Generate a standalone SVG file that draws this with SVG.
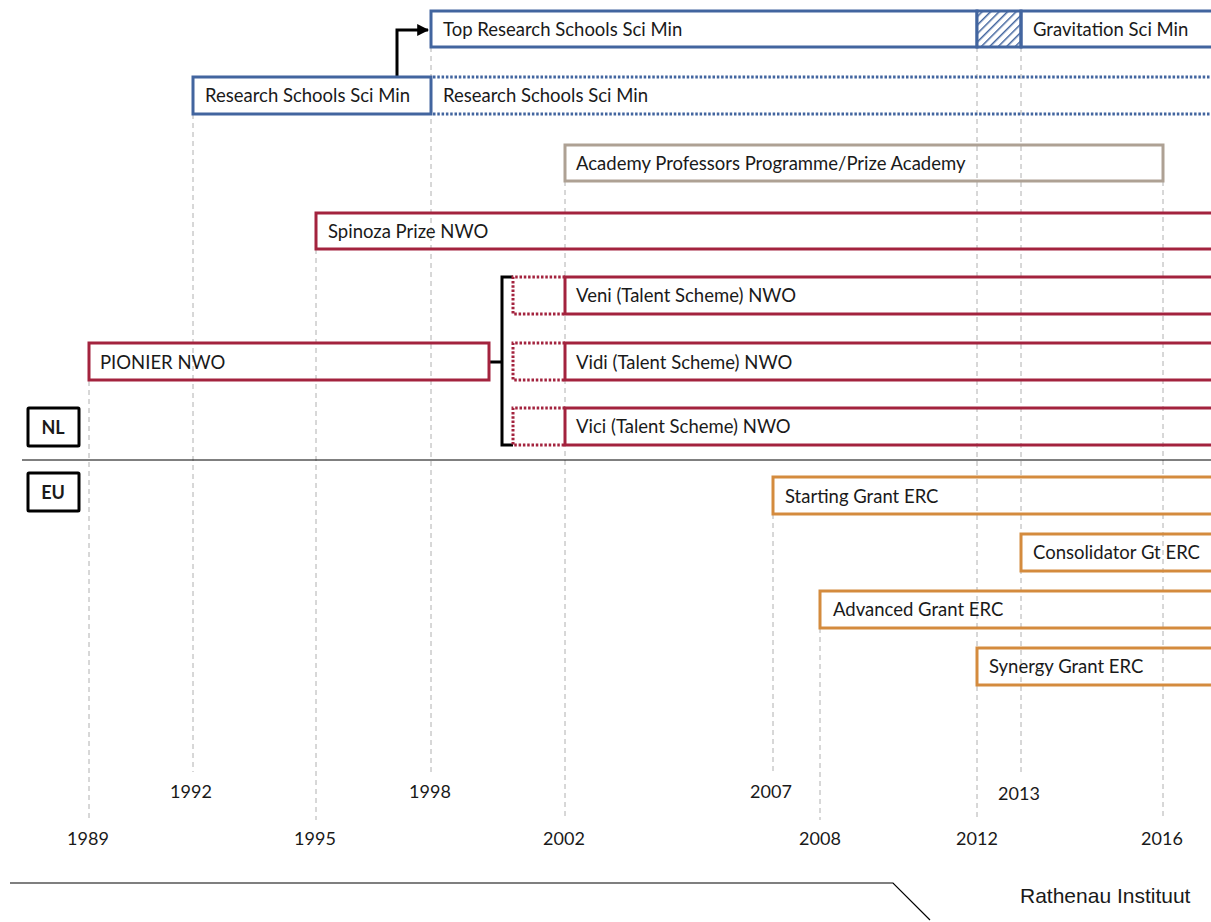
<svg xmlns="http://www.w3.org/2000/svg" width="1211" height="922" viewBox="0 0 1211 922">
<style>
  .t { font-family: Lato, "Open Sans", "Liberation Sans", sans-serif; font-size: 18.5px; fill: #1a1a1a; }
  .yr { font-family: Lato, "Open Sans", "Liberation Sans", sans-serif; font-size: 18px; fill: #1a1a1a; text-anchor: middle; }
  .grid { stroke: #b0b0b0; stroke-width: 1; stroke-dasharray: 5 4; fill: none; }
  .blue { stroke: #42659f; stroke-width: 3; fill: none; }
  .blued { stroke: #42659f; stroke-width: 3; fill: none; stroke-dasharray: 2.5 1.8; }
  .red { stroke: #a3233e; stroke-width: 3; fill: none; }
  .redd { stroke: #a3233e; stroke-width: 3; fill: none; stroke-dasharray: 2.5 1.8; }
  .grey { stroke: #aea194; stroke-width: 3; fill: none; }
  .orange { stroke: #d48b3e; stroke-width: 3; fill: none; }
  .blk { stroke: #000; stroke-width: 3; fill: none; }
  .lbl { font-family: Lato, "Open Sans", "Liberation Sans", sans-serif; font-size: 18px; font-weight: bold; fill: #1a1a1a; text-anchor: middle; }
</style>
<defs>
  <pattern id="hatch" patternUnits="userSpaceOnUse" width="6" height="6" patternTransform="rotate(45)">
    <rect width="6" height="6" fill="#fff"/>
    <line x1="0" y1="0" x2="0" y2="6" stroke="#42659f" stroke-width="3"/>
  </pattern>
  <marker id="arr" viewBox="0 0 10 10" refX="9" refY="5" markerWidth="4" markerHeight="4" orient="auto" markerUnits="strokeWidth">
    <path d="M0,0 L10,5 L0,10 z" fill="#000"/>
  </marker>
</defs>

<g id="gridlines">
  <line class="grid" x1="89" y1="381" x2="89" y2="820"/>
  <line class="grid" x1="193" y1="114" x2="193" y2="772"/>
  <line class="grid" x1="316" y1="249" x2="316" y2="820"/>
  <line class="grid" x1="431" y1="47" x2="431" y2="772"/>
  <line class="grid" x1="565" y1="181" x2="565" y2="820"/>
  <line class="grid" x1="773" y1="514" x2="773" y2="772"/>
  <line class="grid" x1="820" y1="628" x2="820" y2="820"/>
  <line class="grid" x1="977" y1="47" x2="977" y2="820"/>
  <line class="grid" x1="1021" y1="47" x2="1021" y2="772"/>
  <line class="grid" x1="1163" y1="181" x2="1163" y2="820"/>
</g>

<g id="years">
  <text class="yr" x="191" y="798">1992</text>
  <text class="yr" x="430" y="798">1998</text>
  <text class="yr" x="771" y="798">2007</text>
  <text class="yr" x="1019" y="800">2013</text>
  <text class="yr" x="88" y="845">1989</text>
  <text class="yr" x="315" y="845">1995</text>
  <text class="yr" x="564" y="845">2002</text>
  <text class="yr" x="820" y="845">2008</text>
  <text class="yr" x="977" y="845">2012</text>
  <text class="yr" x="1162" y="845">2016</text>
</g>

<line x1="22" y1="460" x2="1211" y2="460" stroke="#000" stroke-width="1"/>

<g id="connectors">
  <path class="blk" d="M397,77 V30 H428" marker-end="url(#arr)"/>
  <path class="blk" d="M489,362 H502 M513,277 H502 V445 H513"/>
</g>

<g id="top-research">
  <rect class="blue" x="431" y="11" width="546" height="36"/>
  <text class="t" x="443" y="36">Top Research Schools Sci Min</text>
</g>
<g id="transition">
  <rect x="977" y="11" width="44" height="36" fill="url(#hatch)" stroke="#42659f" stroke-width="3"/>
</g>
<g id="gravitation">
  <rect class="blue" x="1021" y="11" width="210" height="36"/>
  <text class="t" x="1033" y="36">Gravitation Sci Min</text>
</g>
<g id="research-schools">
  <rect class="blue" x="193" y="77" width="238" height="37"/>
  <text class="t" x="205" y="102">Research Schools Sci Min</text>
</g>
<g id="research-schools-cont">
  <path class="blued" d="M433,77 H1211 M433,114 H1211"/>
  <text class="t" x="443" y="102">Research Schools Sci Min</text>
</g>
<g id="academy">
  <rect class="grey" x="565" y="145" width="598" height="36"/>
  <text class="t" x="576" y="170">Academy Professors Programme/Prize Academy</text>
</g>
<g id="spinoza">
  <rect class="red" x="316" y="213" width="915" height="36"/>
  <text class="t" x="328" y="238">Spinoza Prize NWO</text>
</g>
<g id="veni">
  <path class="redd" d="M565,277 H513 V314 H565"/>
  <rect class="red" x="565" y="277" width="666" height="37"/>
  <text class="t" x="576" y="302">Veni (Talent Scheme) NWO</text>
</g>
<g id="vidi">
  <path class="redd" d="M565,343 H513 V380 H565"/>
  <rect class="red" x="565" y="343" width="666" height="37"/>
  <text class="t" x="576" y="369">Vidi (Talent Scheme) NWO</text>
</g>
<g id="vici">
  <path class="redd" d="M565,408 H513 V445 H565"/>
  <rect class="red" x="565" y="408" width="666" height="37"/>
  <text class="t" x="576" y="433">Vici (Talent Scheme) NWO</text>
</g>
<g id="pionier">
  <rect class="red" x="89" y="343" width="400" height="37"/>
  <text class="t" x="100" y="369">PIONIER NWO</text>
</g>
<g id="nl">
  <rect class="blk" x="28" y="408" width="51" height="38" rx="1"/>
  <text class="lbl" x="53" y="434">NL</text>
</g>
<g id="eu">
  <rect class="blk" x="28" y="473" width="51" height="38" rx="1"/>
  <text class="lbl" x="53" y="499">EU</text>
</g>
<g id="starting">
  <rect class="orange" x="773" y="477" width="458" height="37"/>
  <text class="t" x="785" y="503">Starting Grant ERC</text>
</g>
<g id="consolidator">
  <rect class="orange" x="1021" y="534" width="210" height="37"/>
  <text class="t" x="1033" y="559">Consolidator Gt ERC</text>
</g>
<g id="advanced">
  <rect class="orange" x="820" y="591" width="411" height="37"/>
  <text class="t" x="833" y="616">Advanced Grant ERC</text>
</g>
<g id="synergy">
  <rect class="orange" x="977" y="648" width="254" height="37"/>
  <text class="t" x="989" y="673">Synergy Grant ERC</text>
</g>

<g id="footer">
  <path d="M10,883 H893 L930,920" stroke="#000" stroke-width="1.2" fill="none"/>
  <text x="1020" y="903" style="font-family:'Liberation Sans',Arial,sans-serif;font-size:21px;fill:#1a1a1a">Rathenau Instituut</text>
</g>
</svg>
